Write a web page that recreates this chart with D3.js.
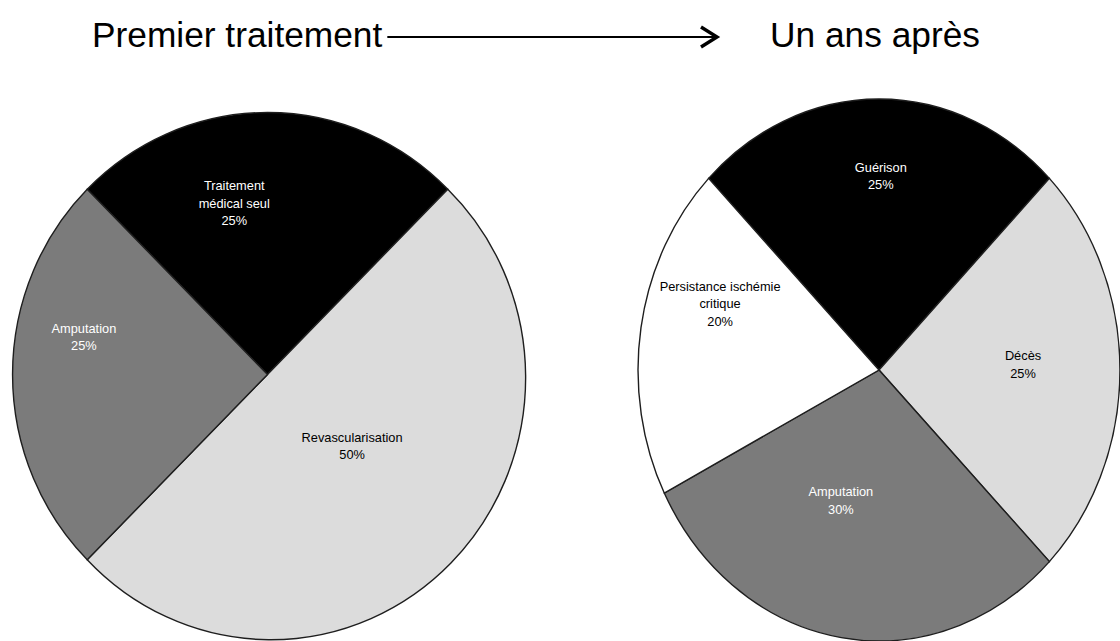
<!DOCTYPE html>
<html>
<head>
<meta charset="utf-8">
<script src="https://cdn.jsdelivr.net/npm/d3@7"></script>
<style>
  html, body { margin: 0; padding: 0; background: #fff; }
  svg { display: block; }
  text { font-family: "Liberation Sans", Arial, sans-serif; }
</style>
</head>
<body>
<svg id="chart" width="1120" height="641"></svg>
<script>
// ---- data ----
const titleBefore = "Premier traitement";
const titleAfter = "Un ans après";

const firstCategories = ["Traitement médical seul", "Revascularisation", "Amputation"];
const firstLabelLines = [["Traitement", "médical seul"], ["Revascularisation"], ["Amputation"]];
const firstValues = [25, 50, 25];

const afterCategories = ["Guérison", "Décès", "Amputation", "Persistance ischémie critique"];
const afterLabelLines = [["Guérison"], ["Décès"], ["Amputation"], ["Persistance ischémie", "critique"]];
const afterValues = [25, 25, 30, 20];

// ---- layout ----
const fills = {
  "Traitement médical seul": "#000000",
  "Revascularisation": "#dcdcdc",
  "Amputation": "#7b7b7b",
  "Guérison": "#000000",
  "Décès": "#dcdcdc",
  "Persistance ischémie critique": "#ffffff"
};
const darkFill = new Set(["#000000", "#7b7b7b"]);

// label anchors in polar form: [angle in degrees clockwise from top, fraction of radius]
const firstLabelPolar = [[-11.3, 0.666], [129.5, 0.43], [281.2, 0.734]];
const afterLabelPolar = [[0.6, 0.716], [88, 0.598], [198.2, 0.507], [290.3, 0.703]];

const pies = [
  { cx: 267.5, cy: 374.5, rx: 255, ry: 262,
    cats: firstCategories, vals: firstValues, lines: firstLabelLines, polar: firstLabelPolar },
  { cx: 879, cy: 370, rx: 241, ry: 271,
    cats: afterCategories, vals: afterValues, lines: afterLabelLines, polar: afterLabelPolar }
];

const svg = d3.select("#chart");

// ---- titles and arrow ----
const titleY = 47;
const titleSize = 35.3;
const t1 = svg.append("text")
  .attr("x", 92).attr("y", titleY)
  .attr("font-size", titleSize).attr("fill", "#000")
  .text(titleBefore);
svg.append("text")
  .attr("x", 770).attr("y", titleY)
  .attr("font-size", titleSize).attr("fill", "#000")
  .text(titleAfter);

const t1End = 92 + t1.node().getComputedTextLength();
const arrowY = 37;
const arrowStart = t1End + 5;
const arrowEnd = 717;
svg.append("line")
  .attr("x1", arrowStart).attr("x2", arrowEnd - 2)
  .attr("y1", arrowY).attr("y2", arrowY)
  .attr("stroke", "#000").attr("stroke-width", 2.2);
svg.append("path")
  .attr("d", `M${arrowEnd - 16},${arrowY - 10} L${arrowEnd},${arrowY} L${arrowEnd - 16},${arrowY + 10}`)
  .attr("fill", "none").attr("stroke", "#000").attr("stroke-width", 3.4)
  .attr("stroke-linejoin", "miter");

// ---- pies ----
const pieGen = d3.pie().sort(null)
  .startAngle(-Math.PI / 4)
  .endAngle(2 * Math.PI - Math.PI / 4);
const arcGen = d3.arc().innerRadius(0).outerRadius(1);

pies.forEach(p => {
  const x = d3.scaleLinear().domain([-1, 1]).range([p.cx - p.rx, p.cx + p.rx]);
  const y = d3.scaleLinear().domain([-1, 1]).range([p.cy - p.ry, p.cy + p.ry]);

  const data = p.cats.map((c, i) => ({ cat: c, value: p.vals[i], lines: p.lines[i], polar: p.polar[i] }));
  const arcs = pieGen.value(d => d.value)(data);

  const g = svg.append("g")
    .attr("transform", `translate(${x(0)},${y(0)}) scale(${x(1) - x(0)},${y(1) - y(0)})`);

  g.selectAll("path")
    .data(arcs)
    .join("path")
    .attr("d", arcGen)
    .attr("fill", d => fills[d.data.cat])
    .attr("stroke", "#1e1e1e")
    .attr("stroke-width", 1.4)
    .attr("vector-effect", "non-scaling-stroke");

  const labels = svg.append("g");
  arcs.forEach(a => {
    const ang = a.data.polar[0] * Math.PI / 180;
    const r = a.data.polar[1];
    const lx = x(r * Math.sin(ang));
    const ly = y(-r * Math.cos(ang));
    const lines = a.data.lines.concat([`${a.data.value}%`]);
    const lh = 17.5;
    const color = darkFill.has(fills[a.data.cat]) ? "#ffffff" : "#000000";
    const top = ly - (lines.length - 1) * lh / 2;
    lines.forEach((ln, i) => {
      labels.append("text")
        .attr("x", lx)
        .attr("y", top + i * lh + 4.5)
        .attr("text-anchor", "middle")
        .attr("font-size", 12.8)
        .attr("fill", color)
        .text(ln);
    });
  });
});
</script>
</body>
</html>
